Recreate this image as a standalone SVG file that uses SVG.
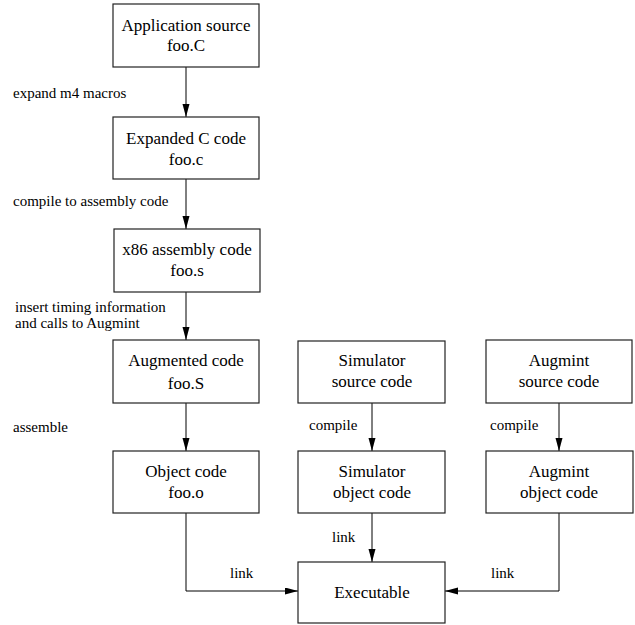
<svg xmlns="http://www.w3.org/2000/svg" width="635" height="625" viewBox="0 0 635 625">
<defs>
<style>
.box{fill:#fff;stroke:#222;stroke-width:1.2}
.bt{font-family:"Liberation Serif","Times New Roman",serif;font-size:17px;fill:#000;text-anchor:middle}
.lb{font-family:"Liberation Serif","Times New Roman",serif;font-size:15px;fill:#000}
.cn{fill:none;stroke:#000;stroke-width:1}
</style>
<marker id="ah" markerUnits="userSpaceOnUse" markerWidth="13" markerHeight="8" refX="13" refY="3.5" orient="auto">
<path d="M0,0 L13,3.5 L0,7 Z" fill="#000"/>
</marker>
</defs>
<rect width="635" height="625" fill="#fff"/>
<g id="connectors">
<line class="cn" x1="186" y1="67" x2="186" y2="117" marker-end="url(#ah)"/>
<line class="cn" x1="186" y1="179" x2="186" y2="229" marker-end="url(#ah)"/>
<line class="cn" x1="186" y1="292" x2="186" y2="340" marker-end="url(#ah)"/>
<line class="cn" x1="186" y1="403" x2="186" y2="451" marker-end="url(#ah)"/>
<line class="cn" x1="372" y1="403" x2="372" y2="451" marker-end="url(#ah)"/>
<line class="cn" x1="559" y1="403" x2="559" y2="451" marker-end="url(#ah)"/>
<line class="cn" x1="372" y1="513" x2="372" y2="562" marker-end="url(#ah)"/>
<polyline class="cn" points="186,513 186,591 298,591" marker-end="url(#ah)"/>
<polyline class="cn" points="559,513 559,591 445,591" marker-end="url(#ah)"/>
<text class="lb" x="13" y="98">expand m4 macros</text>
<text class="lb" x="13" y="206">compile to assembly code</text>
<text class="lb" x="15" y="312">insert timing information</text>
<text class="lb" x="15" y="328">and calls to Augmint</text>
<text class="lb" x="13" y="432">assemble</text>
<text class="lb" x="309" y="430">compile</text>
<text class="lb" x="490" y="430">compile</text>
<text class="lb" x="332" y="542">link</text>
<text class="lb" x="230" y="578">link</text>
<text class="lb" x="491" y="578">link</text>
</g>
<g id="app-source">
<rect class="box" x="113" y="4" width="146" height="63"/>
<text class="bt" x="186" y="31">Application source</text>
<text class="bt" x="186" y="51">foo.C</text>
</g>
<g id="expanded">
<rect class="box" x="113" y="117" width="146" height="62"/>
<text class="bt" x="186" y="144">Expanded C code</text>
<text class="bt" x="186" y="165">foo.c</text>
</g>
<g id="x86">
<rect class="box" x="114" y="229" width="146" height="63"/>
<text class="bt" x="187" y="255">x86 assembly code</text>
<text class="bt" x="187" y="276">foo.s</text>
</g>
<g id="augmented">
<rect class="box" x="113" y="340" width="146" height="63"/>
<text class="bt" x="186" y="366">Augmented code</text>
<text class="bt" x="186" y="389">foo.S</text>
</g>
<g id="sim-source">
<rect class="box" x="298" y="341" width="147" height="62"/>
<text class="bt" x="372" y="366">Simulator</text>
<text class="bt" x="372" y="387">source code</text>
</g>
<g id="aug-source">
<rect class="box" x="486" y="340" width="146" height="63"/>
<text class="bt" x="559" y="366">Augmint</text>
<text class="bt" x="559" y="387">source code</text>
</g>
<g id="object">
<rect class="box" x="113" y="451" width="146" height="62"/>
<text class="bt" x="186" y="477">Object code</text>
<text class="bt" x="186" y="498">foo.o</text>
</g>
<g id="sim-object">
<rect class="box" x="298" y="451" width="147" height="62"/>
<text class="bt" x="372" y="477">Simulator</text>
<text class="bt" x="372" y="498">object code</text>
</g>
<g id="aug-object">
<rect class="box" x="486" y="451" width="147" height="62"/>
<text class="bt" x="559" y="477">Augmint</text>
<text class="bt" x="559" y="498">object code</text>
</g>
<g id="executable">
<rect class="box" x="298" y="562" width="147" height="61"/>
<text class="bt" x="372" y="598">Executable</text>
</g>
</svg>
